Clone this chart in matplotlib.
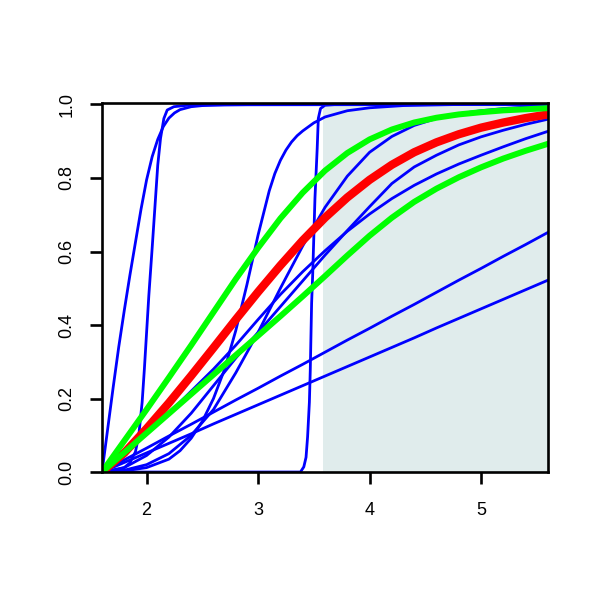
import matplotlib
matplotlib.use("Agg")
import matplotlib.pyplot as plt

plt.rcParams['font.family'] = ['Liberation Sans', 'DejaVu Sans']

# ---- data ----
x_grid = [1.6, 1.8, 2.0, 2.2, 2.4, 2.6, 2.8, 3.0, 3.2, 3.4, 3.6, 3.8, 4.0,
          4.2, 4.4, 4.6, 4.8, 5.0, 5.2, 5.4, 5.6]

red_cdf = [0, 0.052, 0.118, 0.188, 0.262, 0.338, 0.415, 0.49, 0.562, 0.63, 0.692,
           0.747, 0.795, 0.836, 0.87, 0.897, 0.919, 0.937, 0.951, 0.963, 0.973]
green_upper = [0, 0.085, 0.17, 0.257, 0.345, 0.435, 0.525, 0.61, 0.69, 0.76, 0.82,
               0.868, 0.905, 0.932, 0.951, 0.964, 0.973, 0.979, 0.984, 0.987, 0.99]
green_lower = [0, 0.053, 0.106, 0.159, 0.212, 0.265, 0.318, 0.371, 0.424, 0.478, 0.533,
               0.589, 0.643, 0.692, 0.735, 0.771, 0.802, 0.829, 0.853, 0.874, 0.893]

blue_5 = [0, 0.005, 0.02, 0.05, 0.1, 0.17, 0.27, 0.38, 0.5, 0.615, 0.72,
          0.805, 0.87, 0.913, 0.943, 0.962, 0.975, 0.983, 0.989, 0.993, 0.995]
blue_6 = [0, 0.012, 0.045, 0.095, 0.16, 0.235, 0.31, 0.38, 0.45, 0.52, 0.59,
          0.657, 0.722, 0.785, 0.83, 0.862, 0.89, 0.912, 0.93, 0.946, 0.96]
blue_7 = [0, 0.05, 0.105, 0.16, 0.22, 0.28, 0.345, 0.415, 0.483, 0.545, 0.602,
          0.655, 0.702, 0.744, 0.78, 0.811, 0.838, 0.862, 0.885, 0.907, 0.927]
blue_a = [0, 0.033, 0.065, 0.098, 0.13, 0.163, 0.196, 0.228, 0.261, 0.293, 0.326,
          0.359, 0.391, 0.424, 0.456, 0.489, 0.522, 0.554, 0.587, 0.619, 0.652]
blue_b = [0, 0.026, 0.052, 0.078, 0.104, 0.131, 0.157, 0.183, 0.209, 0.235, 0.261,
          0.287, 0.313, 0.339, 0.365, 0.392, 0.418, 0.444, 0.47, 0.496, 0.522]

x_b1 = [1.6, 1.65, 1.7, 1.75, 1.8, 1.85, 1.9, 1.95, 2.0, 2.05, 2.1, 2.15, 2.2, 2.25,
        2.3, 2.4, 2.5, 2.7, 3.0, 5.6]
y_b1 = [0, 0.115, 0.23, 0.34, 0.44, 0.535, 0.625, 0.715, 0.795, 0.858, 0.905, 0.94,
        0.963, 0.977, 0.986, 0.994, 0.997, 0.999, 1.0, 1.0]

x_b2 = [1.6, 1.7, 1.8, 1.85, 1.9, 1.93, 1.96, 1.98, 2.0, 2.02, 2.05, 2.08, 2.1, 2.125,
        2.155, 2.185, 2.245, 2.4, 5.6]
y_b2 = [0, 0.004, 0.012, 0.025, 0.055, 0.1, 0.19, 0.28, 0.38, 0.48, 0.61, 0.745, 0.835,
        0.908, 0.962, 0.985, 0.994, 0.999, 1.0]

x_b3 = [1.6, 3.38, 3.41, 3.43, 3.444, 3.46, 3.468, 3.474, 3.48, 3.49, 3.51, 3.53, 3.54,
        3.56, 3.6, 3.7, 5.6]
y_b3 = [0, 0, 0.014, 0.04, 0.096, 0.19, 0.277, 0.368, 0.459, 0.54, 0.745, 0.88, 0.962,
        0.989, 0.998, 1.0, 1.0]

x_b4 = [1.6, 1.8, 2.0, 2.2, 2.3, 2.4, 2.5, 2.6, 2.7, 2.8, 2.9, 3.0, 3.05, 3.1, 3.15,
        3.2, 3.25, 3.3, 3.35, 3.4, 3.5, 3.6, 3.8, 4.0, 4.3, 4.8, 5.6]
y_b4 = [0, 0.003, 0.012, 0.035, 0.058, 0.092, 0.138, 0.2, 0.28, 0.385, 0.51, 0.645,
        0.705, 0.765, 0.812, 0.848, 0.876, 0.898, 0.915, 0.928, 0.95, 0.966, 0.983,
        0.991, 0.997, 1.0, 1.0]

shade_start = 3.585
x_ticks = [2, 3, 4, 5]
y_ticks = [0.0, 0.2, 0.4, 0.6, 0.8, 1.0]
y_tick_labels = ["0.0", "0.2", "0.4", "0.6", "0.8", "1.0"]

# ---- figure ----
fig = plt.figure(figsize=(6, 6), dpi=100)
ax = fig.add_axes([0.17, 0.2133, 0.7433, 0.615])
ax.set_xlim(1.6, 5.6)
ax.set_ylim(0, 1.004)

ax.axvspan(shade_start, 5.6, color='#e0ecec', zorder=0, lw=0)

blue_kw = dict(color='#0000ff', lw=2.0, zorder=2, solid_joinstyle='round')
ax.plot(x_b1, y_b1, **blue_kw)
ax.plot(x_b2, y_b2, **blue_kw)
ax.plot(x_b3, y_b3, **blue_kw)
ax.plot(x_b4, y_b4, **blue_kw)
for ys in (blue_5, blue_6, blue_7, blue_a, blue_b):
    ax.plot(x_grid, ys, **blue_kw)

ax.plot(x_grid, red_cdf, color='#ff0000', lw=6, zorder=3, solid_joinstyle='round')
ax.plot(x_grid, green_upper, color='#00ff00', lw=4.3, zorder=4, solid_joinstyle='round')
ax.plot(x_grid, green_lower, color='#00ff00', lw=4.3, zorder=4, solid_joinstyle='round')

for s in ax.spines.values():
    s.set_linewidth(1.9)
    s.set_zorder(5)

ax.set_xticks(x_ticks)
ax.set_xticklabels([str(t) for t in x_ticks])
ax.set_yticks(y_ticks)
ax.set_yticklabels(y_tick_labels, rotation=90, va='center')
ax.tick_params(direction='out', length=8.6, width=1.9, labelsize=13)
ax.tick_params(axis='x', pad=13)
ax.tick_params(axis='y', pad=10.5)

fig.savefig("out.png", dpi=100)
